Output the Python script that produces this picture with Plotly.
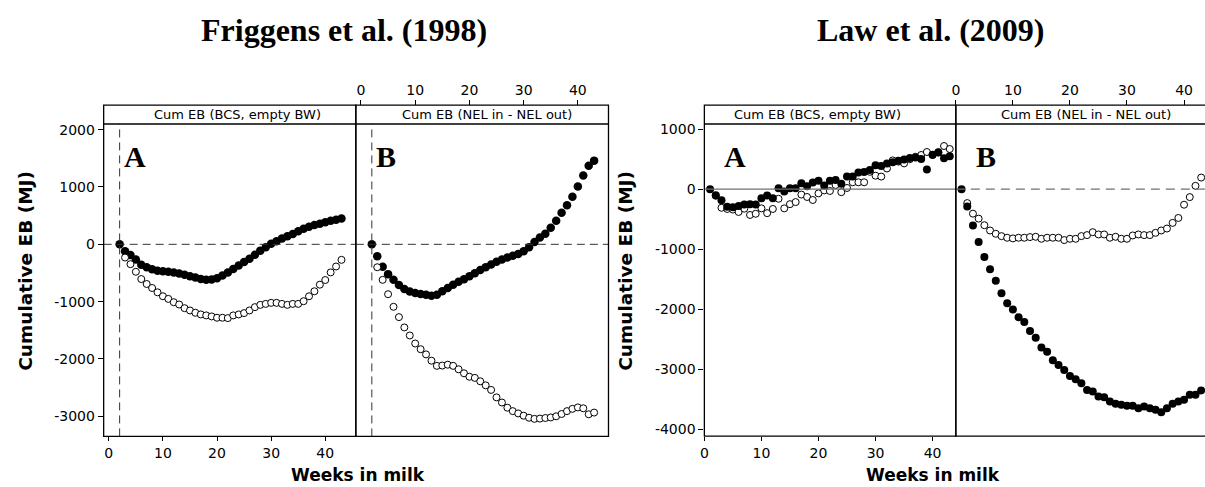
import plotly.graph_objects as go

# weeks in milk
fr_weeks_filled = list(range(2, 44))
fr_weeks_open = list(range(3, 44))
law_weeks_filled = list(range(1, 44))
law_weeks_open = list(range(2, 44))
week_ticks = [0, 10, 20, 30, 40]

# Friggens et al. (1998), panel A: cum EB (BCS, empty BW)
fr_bcs_filled = [0, -120, -185, -265, -355, -400, -435, -460, -470, -480, -490, -510,
                 -530, -555, -580, -605, -620, -615, -590, -545, -490, -430, -370, -310,
                 -250, -180, -110, -50, 10, 55, 100, 140, 180, 230, 270, 305, 335, 360,
                 385, 410, 430, 450]
fr_bcs_open = [-231, -346, -479, -606, -692, -762, -837, -906, -952, -1010, -1050, -1114,
               -1154, -1194, -1223, -1240, -1258, -1281, -1281, -1287, -1240, -1223, -1200,
               -1154, -1096, -1056, -1039, -1021, -1021, -1039, -1056, -1039, -1039, -992,
               -906, -819, -704, -623, -490, -387, -271]

# Friggens et al. (1998), panel B: cum EB (NEL in - NEL out)
fr_nel_filled = [0, -210, -390, -520, -620, -710, -780, -825, -850, -865, -880, -895,
                 -880, -820, -760, -705, -655, -610, -555, -505, -450, -400, -350, -305,
                 -265, -230, -200, -170, -120, -50, 40, 120, 185, 290, 410, 550, 680, 830,
                 1010, 1200, 1370, 1460]
fr_nel_open = [-400, -620, -870, -1090, -1270, -1450, -1590, -1730, -1830, -1920, -2030,
               -2120, -2115, -2100, -2120, -2180, -2250, -2310, -2330, -2390, -2460, -2540,
               -2670, -2760, -2850, -2910, -2950, -2990, -3025, -3045, -3040, -3030, -3020,
               -3000, -2960, -2910, -2870, -2845, -2860, -2965, -2935]

# Law et al. (2009), panel A
law_bcs_filled = [0, -100, -185, -295, -300, -280, -255, -250, -255, -150, -105, -150, 15,
                  -40, 15, 15, 100, 50, 110, 140, 60, 140, 155, 90, 210, 210, 280, 285, 320,
                  400, 385, 430, 450, 475, 495, 520, 530, 505, 330, 575, 615, 515, 550]
law_bcs_open = [-110, -310, -330, -340, -380, -325, -430, -410, -320, -400, -330, -160,
                -320, -250, -215, -90, -130, -180, -70, -20, -30, 70, -50, 20, 115, 115, 115,
                290, 225, 210, 345, 480, 460, 430, 500, 540, 570, 620, 570, 610, 720, 670]

# Law et al. (2009), panel B
law_nel_filled = [0, -287, -607, -882, -1130, -1334, -1527, -1736, -1902, -2007, -2134,
                  -2217, -2366, -2476, -2641, -2713, -2851, -2934, -3017, -3116, -3171,
                  -3237, -3348, -3375, -3458, -3469, -3541, -3579, -3596, -3613, -3613,
                  -3652, -3624, -3652, -3679, -3718, -3652, -3579, -3541, -3513, -3430,
                  -3430, -3359]
law_nel_open = [-232, -408, -491, -601, -689, -744, -783, -810, -821, -810, -810, -799,
                -794, -827, -810, -810, -810, -849, -827, -827, -783, -766, -717, -755,
                -755, -810, -794, -827, -827, -772, -755, -766, -766, -728, -689, -656,
                -562, -480, -259, -132, 56, 194]

fr_yticks = [-3000, -2000, -1000, 0, 1000, 2000]
law_yticks = [-4000, -3000, -2000, -1000, 0, 1000]
fr_start_week = 2

W, H = 1205, 487


def px(x):
    return x / W


def py(y):
    return 1 - y / H


tick_font = dict(family='DejaVu Sans', size=14, color='black')
axis_common = dict(showgrid=False, zeroline=False, showline=False, ticks='outside',
                   tickcolor='black', tickwidth=1, tickfont=tick_font, fixedrange=True)

fig = go.Figure()


def add_pair(x, y_filled, x_open, y_open, xa, ya, fsize=8.5, osize=7):
    fig.add_trace(go.Scatter(
        x=x, y=y_filled, mode='markers', xaxis=xa, yaxis=ya,
        marker=dict(color='black', size=fsize, line=dict(width=0))
    ))
    fig.add_trace(go.Scatter(
        x=x_open, y=y_open, mode='markers', xaxis=xa, yaxis=ya,
        marker=dict(color='white', size=osize, line=dict(color='black', width=1))
    ))


def add_pair_open_first(x, y_filled, x_open, y_open, xa, ya, fsize=8.5, osize=7):
    fig.add_trace(go.Scatter(
        x=x_open, y=y_open, mode='markers', xaxis=xa, yaxis=ya,
        marker=dict(color='white', size=osize, line=dict(color='black', width=1))
    ))
    fig.add_trace(go.Scatter(
        x=x, y=y_filled, mode='markers', xaxis=xa, yaxis=ya,
        marker=dict(color='black', size=fsize, line=dict(width=0))
    ))


add_pair(fr_weeks_filled, fr_bcs_filled, fr_weeks_open, fr_bcs_open, 'x', 'y')
add_pair(fr_weeks_filled, fr_nel_filled, fr_weeks_open, fr_nel_open, 'x2', 'y')
add_pair_open_first(law_weeks_filled, law_bcs_filled, law_weeks_open, law_bcs_open, 'x3', 'y2', 8, 7)
add_pair_open_first(law_weeks_filled, law_nel_filled, law_weeks_open, law_nel_open, 'x4', 'y2', 8, 7)

# panel geometry (pixels)
L_A = (100, 353)
L_B = (353, 606.5)
R_A = (702.7, 955)
R_B = (955, 1207)
STRIP_TOP, STRIP_BOT = 103, 122
L_BOT, R_BOT = 437, 436.7

fig.update_layout(
    xaxis=dict(domain=[px(L_A[0]), px(L_A[1])], range=[-0.95, 45.65], anchor='y',
               tickvals=week_ticks, ticklen=4, **axis_common),
    xaxis2=dict(domain=[px(L_B[0]), px(L_B[1])], range=[-0.95, 45.65], anchor='free',
                position=py(STRIP_TOP), side='top', tickvals=week_ticks, ticklen=5,
                **axis_common),
    yaxis=dict(domain=[py(L_BOT), py(STRIP_BOT)], range=[-3351, 2099], anchor='x',
               tickvals=fr_yticks, ticktext=[str(v) for v in fr_yticks], ticklen=5,
               **axis_common),
    xaxis3=dict(domain=[px(R_A[0]), px(R_A[1])], range=[0, 44.07], anchor='y2',
                tickvals=week_ticks, ticklen=4, **axis_common),
    xaxis4=dict(domain=[px(R_B[0]), 1.0], range=[0, 43.67], anchor='free',
                position=py(STRIP_TOP), side='top', tickvals=week_ticks, ticklen=5,
                **axis_common),
    yaxis2=dict(domain=[py(R_BOT), py(STRIP_BOT)], range=[-4118, 1087], anchor='x3',
                tickvals=law_yticks, ticktext=[str(v) for v in law_yticks], ticklen=5,
                **axis_common),
    width=W, height=H, autosize=False,
    margin=dict(l=0, r=0, t=0, b=0),
    plot_bgcolor='white', paper_bgcolor='white',
    showlegend=False,
)

shapes = []
# reference lines
dash_dark = dict(color='#333333', width=1, dash='8px,5px')
for xa in ['x', 'x2']:
    shapes.append(dict(type='line', xref=xa + ' domain', yref='y', x0=0, x1=1, y0=0, y1=0,
                       line=dash_dark))
    shapes.append(dict(type='line', xref=xa, yref='y domain', x0=fr_start_week,
                       x1=fr_start_week, y0=0, y1=1, line=dash_dark))
shapes.append(dict(type='line', xref='x3 domain', yref='y2', x0=0, x1=1, y0=0, y1=0,
                   line=dict(color='#707070', width=1.2)))
shapes.append(dict(type='line', xref='x4 domain', yref='y2', x0=0, x1=1, y0=0, y1=0,
                   line=dict(color='#707070', width=1.2, dash='9px,6px')))

# panel frames and strips
frame = dict(color='black', width=1.3)
for (x0, x1), bot in [(L_A, L_BOT), (L_B, L_BOT), (R_A, R_BOT), (R_B, R_BOT)]:
    shapes.append(dict(type='rect', xref='paper', yref='paper', x0=px(x0), x1=px(x1),
                       y0=py(bot), y1=py(STRIP_TOP), line=frame, layer='above'))
    shapes.append(dict(type='line', xref='paper', yref='paper', x0=px(x0), x1=px(x1),
                       y0=py(STRIP_BOT), y1=py(STRIP_BOT), line=frame, layer='above'))
fig.update_layout(shapes=shapes)

ann = []
serif = 'Liberation Serif'
sans = 'DejaVu Sans'


def text(x, y, s, size, family, angle=0):
    ann.append(dict(x=px(x), y=py(y), xref='paper', yref='paper', text=s, showarrow=False,
                    textangle=angle, xanchor='center', yanchor='middle',
                    font=dict(family=family, size=size, color='black')))


text(341.5, 27, '<b>Friggens et al. (1998)</b>', 32, serif)
text(930, 27, '<b>Law et al. (2009)</b>', 32, serif)
for x, s in [(234, 'Cum EB (BCS, empty BW)'), (485, 'Cum EB (NEL in - NEL out)'),
             (816, 'Cum EB (BCS, empty BW)'), (1086, 'Cum EB (NEL in - NEL out)')]:
    text(x, 112.5, s, 13, sans)
for x, s in [(131.7, 'A'), (383, 'B'), (733.5, 'A'), (985.5, 'B')]:
    text(x, 155, '<b>%s</b>' % s, 30, serif)
text(22, 270, '<b>Cumulative EB (MJ)</b>', 18.5, sans, -90)
text(624, 270, '<b>Cumulative EB (MJ)</b>', 18.5, sans, -90)
text(355, 476, '<b>Weeks in milk</b>', 17, sans)
text(932, 476, '<b>Weeks in milk</b>', 17, sans)
fig.update_layout(annotations=ann)

fig.write_html("out.html", config={'displayModeBar': False},
               post_script="document.body.style.margin='0';")
